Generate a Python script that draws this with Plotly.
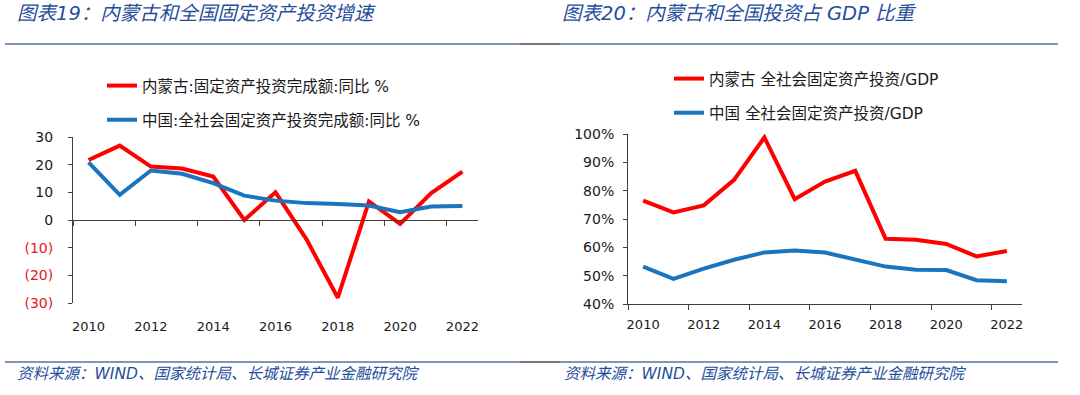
import plotly.graph_objects as go

years = list(range(2010, 2023))

# Left chart: growth rates (%)
nmg_growth = [21.7, 26.9, 19.3, 18.6, 15.7, 0.0, 10.0, -7.1, -28.1, 6.7, -1.4, 9.7, 17.5]
cn_growth = [20.8, 9.1, 17.9, 16.7, 13.3, 8.8, 7.0, 6.1, 5.8, 5.2, 2.8, 4.9, 5.1]

# Right chart: investment / GDP (%)
nmg_ratio = [76.5, 72.3, 74.8, 83.8, 98.8, 77.0, 83.2, 87.0, 63.0, 62.7, 61.2, 56.8, 58.7]
cn_ratio = [53.2, 48.9, 52.5, 55.6, 58.2, 58.9, 58.2, 55.6, 53.2, 52.1, 52.0, 48.4, 48.0]

left_title = "图表19：内蒙古和全国固定资产投资增速"
right_title = "图表20：内蒙古和全国投资占 GDP 比重"
source_text = "资料来源：WIND、国家统计局、长城证券产业金融研究院"
left_names = ["内蒙古:固定资产投资完成额:同比 %", "中国:全社会固定资产投资完成额:同比 %"]
right_names = ["内蒙古 全社会固定资产投资/GDP", "中国 全社会固定资产投资/GDP"]

left_yticks = [30, 20, 10, 0, -10, -20, -30]
left_yticktext = ["30", "20", "10", "0",
                  "<span style='color:#E8141B'>(10)</span>",
                  "<span style='color:#E8141B'>(20)</span>",
                  "<span style='color:#E8141B'>(30)</span>"]
right_yticks = [40, 50, 60, 70, 80, 90, 100]
right_yticktext = ["40%", "50%", "60%", "70%", "80%", "90%", "100%"]
xlabels = [2010, 2012, 2014, 2016, 2018, 2020, 2022]
xbounds = [2009.5, 2011.5, 2013.5, 2015.5, 2017.5, 2019.5, 2021.5]

RED = "#FF0000"
BLUE = "#1A75BE"
FONT = "DejaVu Sans, Noto Sans CJK SC, sans-serif"
TITLE_COLOR = "#1F4E9A"
AX = "#404040"
W, H = 1080, 395

def py(pix):
    return (H - pix) / H

fig = go.Figure()
fig.add_trace(go.Scatter(x=years, y=nmg_growth, mode="lines", name=left_names[0],
                         line=dict(color=RED, width=4), xaxis="x", yaxis="y",
                         legend="legend", legendgroup="a"))
fig.add_trace(go.Scatter(x=years, y=cn_growth, mode="lines", name=left_names[1],
                         line=dict(color=BLUE, width=4), xaxis="x", yaxis="y",
                         legend="legend", legendgroup="b"))
fig.add_trace(go.Scatter(x=years, y=nmg_ratio, mode="lines", name=right_names[0],
                         line=dict(color=RED, width=4), xaxis="x2", yaxis="y2",
                         legend="legend2", legendgroup="c"))
fig.add_trace(go.Scatter(x=years, y=cn_ratio, mode="lines", name=right_names[1],
                         line=dict(color=BLUE, width=4), xaxis="x2", yaxis="y2",
                         legend="legend2", legendgroup="d"))

tickfont_x = dict(family=FONT, size=13, color="#1a1a1a")
tickfont_y = dict(family=FONT, size=14, color="#1a1a1a")

fig.update_layout(
    template="none",
    width=W, height=H, margin=dict(l=0, r=0, t=0, b=0, pad=0, autoexpand=False),
    paper_bgcolor="white", plot_bgcolor="white",
    font=dict(family=FONT, color="#1a1a1a"),
    xaxis=dict(domain=[73 / W, 478 / W], anchor="free", position=py(220),
               range=[2009.5, 2022.5], showline=True, linecolor=AX, linewidth=1,
               tickmode="array", tickvals=xlabels, ticks="", ticklabelstandoff=94,
               tickfont=tickfont_x, showgrid=False, zeroline=False, automargin=False,
               minor=dict(tickmode="array", tickvals=xbounds, ticks="outside",
                          ticklen=5, tickcolor=AX, showgrid=False)),
    yaxis=dict(domain=[py(303), py(137)], anchor="x", range=[-30, 30],
               showline=True, linecolor=AX, linewidth=1, ticks="outside", ticklen=4,
               tickcolor=AX, tickmode="array", tickvals=left_yticks, ticktext=left_yticktext,
               tickfont=tickfont_y, showgrid=False, zeroline=False, ticklabelstandoff=12,
               automargin=False),
    xaxis2=dict(domain=[628 / W, 1022 / W], anchor="y2",
                range=[2009.5, 2022.5], showline=True, linecolor=AX, linewidth=1,
                tickmode="array", tickvals=xlabels, ticks="", ticklabelstandoff=8,
                tickfont=tickfont_x, showgrid=False, zeroline=False, automargin=False,
                minor=dict(tickmode="array", tickvals=xbounds, ticks="outside",
                           ticklen=5, tickcolor=AX, showgrid=False)),
    yaxis2=dict(domain=[py(304), py(134)], anchor="x2", range=[40, 100],
                showline=True, linecolor=AX, linewidth=1, ticks="outside", ticklen=4,
                tickcolor=AX, tickmode="array", tickvals=right_yticks, ticktext=right_yticktext,
                tickfont=tickfont_y, showgrid=False, zeroline=False, ticklabelstandoff=6,
                automargin=False),
    legend=dict(x=102 / W, y=py(69), xanchor="left", yanchor="top",
                orientation="v", tracegroupgap=11, bgcolor="rgba(0,0,0,0)",
                font=dict(family=FONT, size=15.5, color="#1a1a1a")),
    legend2=dict(x=669 / W, y=py(62), xanchor="left", yanchor="top",
                 orientation="v", tracegroupgap=11, bgcolor="rgba(0,0,0,0)",
                 font=dict(family=FONT, size=15.5, color="#1a1a1a")),
    showlegend=True,
)

# Titles and sources
for x0, txt in [(15, left_title), (560, right_title)]:
    fig.add_annotation(text="<i>" + txt + "</i>", xref="paper", yref="paper",
                       x=x0 / W, y=py(14), xanchor="left", yanchor="middle",
                       showarrow=False, font=dict(family=FONT, size=19.5, color=TITLE_COLOR))
for x0 in [15, 562]:
    fig.add_annotation(text="<i>" + source_text + "</i>", xref="paper", yref="paper",
                       x=x0 / W, y=py(374), xanchor="left", yanchor="middle",
                       showarrow=False, font=dict(family=FONT, size=15.5, color=TITLE_COLOR))

# Separator lines
LINE_C = "#7E96BA"
for yy in [44, 362]:
    fig.add_shape(type="line", xref="paper", yref="paper", x0=5 / W, x1=520 / W,
                  y0=py(yy), y1=py(yy), line=dict(color=LINE_C, width=2))
    fig.add_shape(type="line", xref="paper", yref="paper", x0=520 / W, x1=560 / W,
                  y0=py(yy), y1=py(yy), line=dict(color="#777777", width=2))
    fig.add_shape(type="line", xref="paper", yref="paper", x0=560 / W, x1=1058 / W,
                  y0=py(yy), y1=py(yy), line=dict(color=LINE_C, width=2))

fig.write_html("out.html", config={"displayModeBar": False},
               post_script="document.body.style.margin='0';document.body.style.padding='0';")
